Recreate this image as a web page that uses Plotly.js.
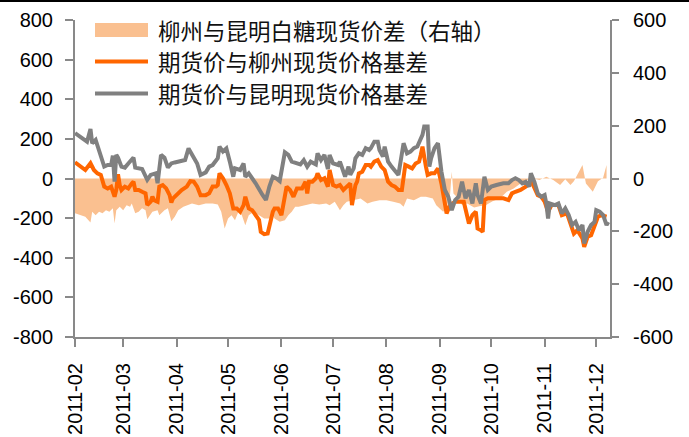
<!DOCTYPE html>
<html>
<head>
<meta charset="utf-8">
<script src="https://cdn.plot.ly/plotly-3.0.1.min.js"></script>
<style>html,body{margin:0;padding:0;background:#fff;}#chart{width:689px;height:437px;}</style>
</head>
<body>
<div id="chart"></div>
<script>
// ---- Series names (legend) ----
const seriesNames = ['柳州与昆明白糖现货价差（右轴）', '期货价与柳州现货价格基差', '期货价与昆明现货价格基差'];

// ---- 期货价与昆明现货价格基差 (left axis) ----
const datesKunming = ['2011-02-01','2011-02-08','2011-02-10','2011-02-11','2011-02-13','2011-02-15','2011-02-18','2011-02-20','2011-02-22','2011-02-23','2011-02-24','2011-02-25','2011-02-26','2011-02-28','2011-03-02','2011-03-04','2011-03-07','2011-03-08','2011-03-12','2011-03-15','2011-03-17','2011-03-20','2011-03-21','2011-03-23','2011-03-25','2011-03-27','2011-03-29','2011-03-31','2011-04-03','2011-04-06','2011-04-08','2011-04-11','2011-04-13','2011-04-15','2011-04-18','2011-04-20','2011-04-22','2011-04-25','2011-04-26','2011-04-28','2011-04-30','2011-05-02','2011-05-04','2011-05-05','2011-05-08','2011-05-10','2011-05-11','2011-05-13','2011-05-17','2011-05-21','2011-05-23','2011-05-25','2011-05-27','2011-05-29','2011-05-31','2011-06-03','2011-06-05','2011-06-07','2011-06-09','2011-06-12','2011-06-14','2011-06-16','2011-06-18','2011-06-21','2011-06-22','2011-06-24','2011-06-26','2011-06-28','2011-06-29','2011-07-01','2011-07-04','2011-07-05','2011-07-08','2011-07-10','2011-07-11','2011-07-13','2011-07-14','2011-07-16','2011-07-18','2011-07-20','2011-07-22','2011-07-23','2011-07-25','2011-07-27','2011-07-28','2011-07-30','2011-07-31','2011-08-02','2011-08-04','2011-08-06','2011-08-08','2011-08-11','2011-08-13','2011-08-15','2011-08-17','2011-08-19','2011-08-21','2011-08-22','2011-08-23','2011-08-25','2011-08-26','2011-08-27','2011-08-29','2011-08-31','2011-09-02','2011-09-04','2011-09-06','2011-09-08','2011-09-10','2011-09-12','2011-09-14','2011-09-16','2011-09-18','2011-09-20','2011-09-22','2011-09-23','2011-09-25','2011-09-27','2011-09-29','2011-10-01','2011-10-04','2011-10-08','2011-10-11','2011-10-13','2011-10-15','2011-10-17','2011-10-19','2011-10-21','2011-10-23','2011-10-24','2011-10-26','2011-10-28','2011-10-30','2011-11-01','2011-11-02','2011-11-03','2011-11-04','2011-11-07','2011-11-09','2011-11-11','2011-11-13','2011-11-15','2011-11-17','2011-11-19','2011-11-21','2011-11-23','2011-11-24','2011-11-26','2011-11-28','2011-11-30','2011-12-01','2011-12-03','2011-12-05','2011-12-07','2011-12-08'];
const basisKunming = [229,186,250,178,195,136,60,68,68,115,-16,119,105,60,55,76,105,55,48,-7,18,26,-24,119,105,55,76,81,85,93,152,110,76,18,31,60,68,102,161,136,152,85,9,51,43,76,9,26,-24,-83,-108,-41,9,0,-13,132,119,85,81,71,93,60,85,71,127,93,119,48,119,76,68,85,9,60,18,51,102,127,119,153,144,153,186,186,144,110,161,85,60,35,18,178,127,136,153,161,195,220,262,262,60,102,153,178,35,-58,-92,-160,-109,-92,-16,-100,-58,-126,-24,-83,-126,9,-58,-41,-33,-24,-24,-8,1,-8,-24,-16,-41,26,-16,-75,-92,-83,-126,-202,-126,-134,-126,-176,-151,-185,-235,-219,-261,-235,-328,-269,-235,-219,-160,-168,-185,-235,-220];

// ---- 期货价与柳州现货价格基差 (left axis) ----
const datesLiuzhou = ['2011-02-01','2011-02-07','2011-02-10','2011-02-12','2011-02-14','2011-02-16','2011-02-18','2011-02-20','2011-02-22','2011-02-24','2011-02-25','2011-02-26','2011-02-27','2011-02-28','2011-03-02','2011-03-04','2011-03-06','2011-03-07','2011-03-08','2011-03-10','2011-03-12','2011-03-14','2011-03-15','2011-03-17','2011-03-18','2011-03-19','2011-03-21','2011-03-22','2011-03-24','2011-03-26','2011-03-28','2011-03-29','2011-03-30','2011-04-01','2011-04-04','2011-04-07','2011-04-09','2011-04-11','2011-04-13','2011-04-15','2011-04-18','2011-04-20','2011-04-22','2011-04-24','2011-04-25','2011-04-26','2011-04-28','2011-04-30','2011-05-02','2011-05-04','2011-05-06','2011-05-08','2011-05-10','2011-05-11','2011-05-13','2011-05-15','2011-05-17','2011-05-19','2011-05-20','2011-05-22','2011-05-24','2011-05-25','2011-05-27','2011-05-28','2011-05-30','2011-06-01','2011-06-03','2011-06-04','2011-06-06','2011-06-08','2011-06-10','2011-06-13','2011-06-15','2011-06-16','2011-06-17','2011-06-19','2011-06-21','2011-06-22','2011-06-24','2011-06-26','2011-06-28','2011-06-29','2011-07-01','2011-07-03','2011-07-05','2011-07-07','2011-07-09','2011-07-11','2011-07-12','2011-07-14','2011-07-15','2011-07-16','2011-07-18','2011-07-20','2011-07-22','2011-07-23','2011-07-25','2011-07-27','2011-07-29','2011-07-31','2011-08-02','2011-08-04','2011-08-06','2011-08-08','2011-08-10','2011-08-12','2011-08-14','2011-08-16','2011-08-18','2011-08-20','2011-08-21','2011-08-22','2011-08-24','2011-08-25','2011-08-27','2011-08-29','2011-08-31','2011-09-02','2011-09-04','2011-09-05','2011-09-07','2011-09-10','2011-09-12','2011-09-15','2011-09-18','2011-09-20','2011-09-22','2011-09-23','2011-09-25','2011-09-26','2011-09-27','2011-09-29','2011-10-02','2011-10-05','2011-10-08','2011-10-11','2011-10-13','2011-10-15','2011-10-18','2011-10-21','2011-10-23','2011-10-24','2011-10-26','2011-10-28','2011-10-30','2011-11-01','2011-11-03','2011-11-05','2011-11-09','2011-11-11','2011-11-14','2011-11-16','2011-11-18','2011-11-20','2011-11-23','2011-11-24','2011-11-26','2011-11-28','2011-11-30','2011-12-02','2011-12-04','2011-12-07'];
const basisLiuzhou = [82,43,77,43,26,18,-41,-50,-41,-92,-58,21,-33,-58,-41,-50,-25,-16,-58,-58,-67,-75,-134,-117,-92,-109,-117,-41,-33,-50,-84,-121,-100,-84,-58,-41,-13,-16,-41,-84,-84,-75,-41,-41,-33,26,1,-33,-75,-151,-151,-168,-134,-92,-151,-160,-185,-210,-269,-281,-278,-235,-168,-151,-151,-185,-84,-41,-58,-92,-50,-50,-16,-75,-16,-16,1,26,-8,1,-41,43,-33,-41,-33,-58,-41,-25,-134,-33,-16,26,34,68,68,60,85,93,60,43,-16,-33,-41,-58,-58,68,60,51,76,85,119,161,60,18,26,26,51,-25,-126,-176,-134,-117,-117,-117,-227,-185,-168,-252,-261,-269,-109,-100,-100,-100,-100,-109,-75,-67,-58,-41,-25,-8,-41,-84,-92,-117,-168,-134,-134,-185,-176,-235,-278,-261,-303,-345,-294,-286,-235,-193,-185,-193];

// ---- 柳州与昆明白糖现货价差 (right axis) ----
const datesSpread = ['2011-02-01','2011-02-07','2011-02-10','2011-02-11','2011-02-13','2011-02-15','2011-02-17','2011-02-19','2011-02-21','2011-02-23','2011-02-24','2011-02-25','2011-02-27','2011-03-01','2011-03-03','2011-03-05','2011-03-06','2011-03-08','2011-03-10','2011-03-12','2011-03-14','2011-03-15','2011-03-18','2011-03-21','2011-03-22','2011-03-25','2011-03-27','2011-03-29','2011-03-31','2011-04-02','2011-04-05','2011-04-08','2011-04-10','2011-04-14','2011-04-18','2011-04-22','2011-04-25','2011-04-27','2011-04-29','2011-05-01','2011-05-03','2011-05-05','2011-05-07','2011-05-09','2011-05-11','2011-05-13','2011-05-16','2011-05-19','2011-05-22','2011-05-25','2011-05-27','2011-05-28','2011-05-31','2011-06-03','2011-06-05','2011-06-07','2011-06-09','2011-06-11','2011-06-15','2011-06-19','2011-06-23','2011-06-27','2011-06-29','2011-07-02','2011-07-05','2011-07-07','2011-07-09','2011-07-13','2011-07-17','2011-07-21','2011-07-24','2011-07-28','2011-08-01','2011-08-05','2011-08-09','2011-08-11','2011-08-13','2011-08-17','2011-08-21','2011-08-24','2011-08-28','2011-08-30','2011-09-01','2011-09-03','2011-09-05','2011-09-07','2011-09-08','2011-09-09','2011-09-11','2011-09-14','2011-09-17','2011-09-21','2011-09-24','2011-09-28','2011-10-02','2011-10-06','2011-10-10','2011-10-14','2011-10-18','2011-10-22','2011-10-25','2011-10-29','2011-11-02','2011-11-06','2011-11-10','2011-11-13','2011-11-16','2011-11-18','2011-11-23','2011-11-25','2011-11-29','2011-12-02','2011-12-05','2011-12-07'];
const spreadLiuzhouKunming = [-132,-145,-167,-126,-139,-126,-132,-120,-126,-113,-170,-120,-107,-120,-101,-107,-95,-132,-126,-113,-120,-154,-126,-120,-139,-120,-113,-162,-145,-120,-107,-101,-95,-101,-95,-95,-98,-126,-189,-151,-139,-158,-126,-139,-177,-139,-126,-139,-151,-151,-139,-151,-164,-158,-139,-126,-107,-107,-101,-95,-98,-95,-101,-88,-120,-101,-88,-82,-76,-95,-88,-82,-82,-88,-95,-107,-76,-82,-69,-69,-76,-101,-113,-126,-113,-63,26,-57,-70,-100,-95,-110,-105,-100,-85,-76,-50,-38,-19,-6,0,-6,7,-6,-25,-3,-25,-10,51,-19,-50,-10,3,51];

// ---- Axis tick settings ----
const leftTicks = [-800,-600,-400,-200,0,200,400,600,800];
const rightTicks = [-600,-400,-200,0,200,400,600];

// ---- Layout geometry (pixels) ----
const W = 689, H = 437;
const M = {l: 75, r: 79, t: 20, b: 100};
const pw = W - M.l - M.r, ph = H - M.t - M.b;
const px = v => (v - M.l) / pw;
const py = v => (H - M.b - v) / ph;

const axisGray = '#898989';
const tickFont = {family: 'Arial, "Liberation Sans", sans-serif', size: 20, color: '#000'};
const cjkFont = {family: '"Noto Sans CJK SC", sans-serif', size: 22.5, color: '#111'};

// Fill on the base (right-hand) axis so it sits beneath the lines, which use the overlaying left axis.
const traces = [
  {x: datesSpread, y: spreadLiuzhouKunming, yaxis: 'y', type: 'scatter', mode: 'lines',
   line: {width: 0, color: '#FAC090'}, fill: 'tozeroy', fillcolor: '#FAC090', name: seriesNames[0], hoverinfo: 'skip'},
  {x: datesLiuzhou, y: basisLiuzhou, yaxis: 'y2', type: 'scatter', mode: 'lines',
   line: {width: 4, color: '#FF6600'}, name: seriesNames[1]},
  {x: datesKunming, y: basisKunming, yaxis: 'y2', type: 'scatter', mode: 'lines',
   line: {width: 4, color: '#808080'}, name: seriesNames[2]}
];

const legendRows = [
  {type: 'rect', color: '#FAC090', y: 30, text: seriesNames[0]},
  {type: 'line', color: '#FF6600', y: 61.5, text: seriesNames[1]},
  {type: 'line', color: '#808080', y: 93.5, text: seriesNames[2]}
];

const shapes = [
  {type: 'line', xref: 'paper', yref: 'paper', x0: px(0), x1: px(W), y0: py(1), y1: py(1),
   line: {color: '#000', width: 2}}
];
const annotations = [];
legendRows.forEach(r => {
  if (r.type === 'rect') {
    shapes.push({type: 'rect', xref: 'paper', yref: 'paper', x0: px(95), x1: px(148), y0: py(r.y + 7), y1: py(r.y - 7),
      fillcolor: r.color, line: {width: 0}});
  } else {
    shapes.push({type: 'line', xref: 'paper', yref: 'paper', x0: px(95), x1: px(148), y0: py(r.y), y1: py(r.y),
      line: {color: r.color, width: 4}});
  }
  annotations.push({xref: 'paper', yref: 'paper', x: px(156), y: py(r.y - 0.5), xanchor: 'left', yanchor: 'middle',
    text: r.text, showarrow: false, font: cjkFont});
});

const axisCommon = {
  showgrid: false, zeroline: false, showline: true, linecolor: axisGray, linewidth: 2,
  ticks: 'outside', tickwidth: 2, tickcolor: axisGray, tickfont: tickFont
};

const layout = {
  width: W, height: H,
  margin: M,
  paper_bgcolor: '#fff', plot_bgcolor: '#fff',
  showlegend: false,
  xaxis: Object.assign({}, axisCommon, {
    type: 'date', range: ['2011-02-01', '2011-12-09'],
    tick0: '2011-02-01', dtick: 'M1', tickformat: '%Y-%m', tickangle: -90,
    ticklen: 8, ticklabelstandoff: 8
  }),
  yaxis: Object.assign({}, axisCommon, {
    side: 'right', range: [-600, 600], tickvals: rightTicks, ticktext: rightTicks.map(String),
    ticklen: 7, ticklabelstandoff: 10
  }),
  yaxis2: Object.assign({}, axisCommon, {
    overlaying: 'y', side: 'left', range: [-800, 800], tickvals: leftTicks, ticktext: leftTicks.map(String),
    ticklen: 8, ticklabelstandoff: 8
  }),
  shapes: shapes,
  annotations: annotations
};

Plotly.newPlot('chart', traces, layout, {staticPlot: true, displayModeBar: false});
</script>
</body>
</html>
